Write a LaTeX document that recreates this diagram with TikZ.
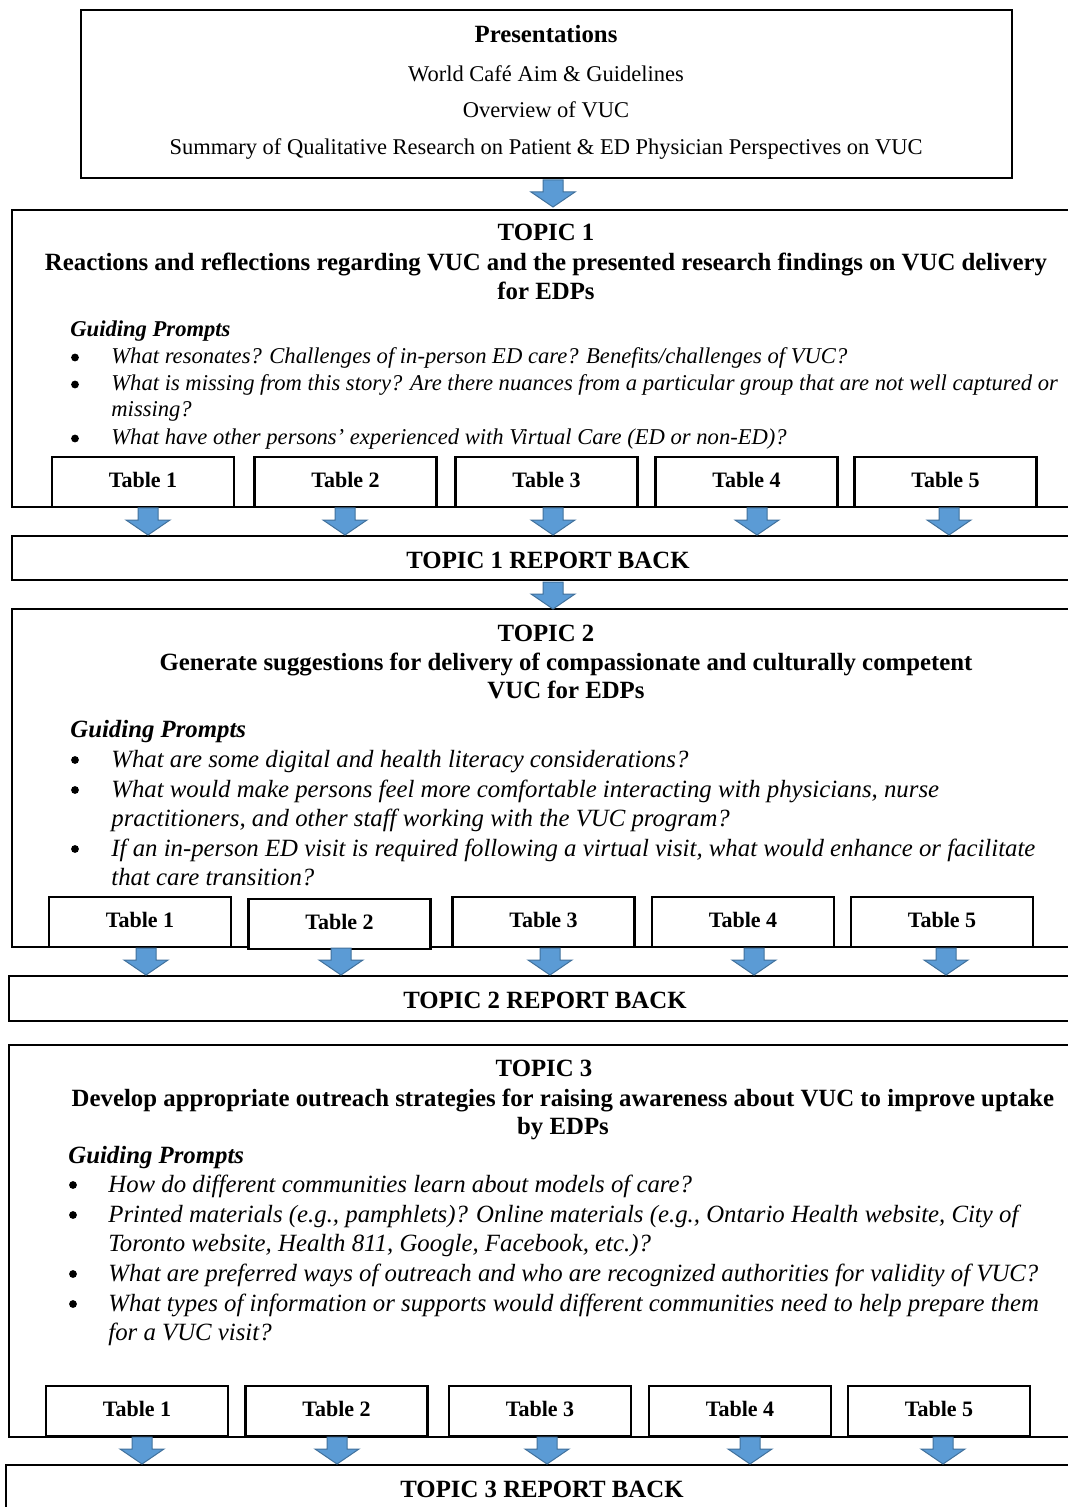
\documentclass[tikz,border=0pt]{standalone}
\usepackage{fontspec}
\setmainfont{Liberation Serif}
\definecolor{arrowfill}{HTML}{5B9BD5}
\definecolor{arrowline}{HTML}{41719C}
\tikzset{
  bigbox/.style={draw, line width=1.2pt},
  tbl/.style={draw, line width=1.3pt, fill=white, minimum width=91pt, minimum height=25pt, inner sep=0pt, text depth=2pt, font=\fontsize{11}{13}\selectfont\bfseries},
  ttl/.style={anchor=base, inner sep=0pt, font=\fontsize{12.4}{14}\selectfont\bfseries},
  reg/.style={anchor=base, inner sep=0pt, font=\fontsize{11.25}{13}\selectfont},
  gpA/.style={anchor=base west, inner sep=0pt, font=\fontsize{11.3}{13}\selectfont\bfseries\itshape},
  gpB/.style={anchor=base west, inner sep=0pt, font=\fontsize{12.4}{14}\selectfont\bfseries\itshape},
  itA/.style={anchor=base west, inner sep=0pt, font=\fontsize{11.3}{13}\selectfont\itshape},
  itB/.style={anchor=base west, inner sep=0pt, font=\fontsize{12.4}{14}\selectfont\itshape},
  bul/.style={circle, fill=black, inner sep=0pt, minimum size=3.9pt},
  barrow/.pic={\filldraw[fill=arrowfill, draw=arrowline, line width=0.5pt]
    (-10,0) -- (10,0) -- (10,12) -- (22,12) -- (0,27) -- (-22,12) -- (-10,12) -- cycle;}
}

\begin{document}

\begin{tikzpicture}[x=0.5pt,y=-0.5pt]
\useasboundingbox (0,0) rectangle (1068,1507);
\clip (0,0) rectangle (1068,1507);
\fill[white] (0,0) rectangle (1068,1507);

% ---------- Presentations ----------
\draw[bigbox] (81,10) rectangle (1012,178);
\node[ttl] (pres) at (546,43) {Presentations};
\node[reg] (pres1) at (546,82) {World Café Aim \& Guidelines};
\node[reg] (pres2) at (546,118) {Overview of VUC};
\node[reg] (pres3) at (546,155) {Summary of Qualitative Research on Patient \& ED Physician Perspectives on VUC};

% ---------- Topic 1 ----------
\draw[bigbox] (1090,210) -- (12,210) -- (12,507) -- (1090,507);
\node[ttl] (t1a) at (546,241) {TOPIC 1};
\node[ttl] (t1b) at (546,271) {Reactions and reflections regarding VUC and the presented research findings on VUC delivery};
\node[ttl] (t1c) at (546,300) {for EDPs};
\node[gpA] (t1g) at (70,337) {Guiding Prompts};
\foreach \yy in {364,391,445} \node[bul] at (75,{\yy-6.5}) {};
\node[itA] (t1p1) at (111,364) {What resonates? Challenges of in-person ED care? Benefits/challenges of VUC?};
\node[itA] (t1p2) at (111,391) {What is missing from this story? Are there nuances from a particular group that are not well captured or};
\node[itA] (t1p2b) at (111,417) {missing?};
\node[itA] (t1p3) at (111,445) {What have other persons’ experienced with Virtual Care (ED or non-ED)?};

\node[tbl] (a1) at (143,482) {Table 1};
\node[tbl] (a2) at (345.5,482) {Table 2};
\node[tbl] (a3) at (546.5,482) {Table 3};
\node[tbl] (a4) at (746.5,482) {Table 4};
\node[tbl] (a5) at (945.5,482) {Table 5};

% ---------- Topic 1 report back ----------
\draw[bigbox] (1090,536) -- (12,536) -- (12,580) -- (1090,580);
\node[ttl] (rb1) at (548,568) {TOPIC 1 REPORT BACK};

% ---------- Topic 2 ----------
\draw[bigbox] (1090,609) -- (12,609) -- (12,947) -- (1090,947);
\node[ttl] (t2a) at (546,641) {TOPIC 2};
\node[ttl] (t2b) at (566,670) {Generate suggestions for delivery of compassionate and culturally competent};
\node[ttl] (t2c) at (566,698) {VUC for EDPs};
\node[gpB] (t2g) at (70,737) {Guiding Prompts};
\foreach \yy in {767,797,856} \node[bul] at (75,{\yy-7}) {};
\node[itB] (t2p1) at (111,767) {What are some digital and health literacy considerations?};
\node[itB] (t2p2) at (111,797) {What would make persons feel more comfortable interacting with physicians, nurse};
\node[itB] (t2p2b) at (111,826) {practitioners, and other staff working with the VUC program?};
\node[itB] (t2p3) at (111,856) {If an in-person ED visit is required following a virtual visit, what would enhance or facilitate};
\node[itB] (t2p3b) at (111,885) {that care transition?};

\node[tbl] (b1) at (140,922) {Table 1};
\node[tbl] (b2) at (339.5,924) {Table 2};
\node[tbl] (b3) at (543.5,922) {Table 3};
\node[tbl] (b4) at (743,922) {Table 4};
\node[tbl] (b5) at (942,922) {Table 5};

% ---------- Topic 2 report back ----------
\draw[bigbox] (1090,976) -- (9,976) -- (9,1021) -- (1090,1021);
\node[ttl] (rb2) at (545,1008) {TOPIC 2 REPORT BACK};

% ---------- Topic 3 ----------
\draw[bigbox] (1090,1045) -- (9,1045) -- (9,1437) -- (1090,1437);
\node[ttl] (t3a) at (544,1076) {TOPIC 3};
\node[ttl] (t3b) at (563,1106) {Develop appropriate outreach strategies for raising awareness about VUC to improve uptake};
\node[ttl] (t3c) at (563,1134) {by EDPs};
\node[gpB] (t3g) at (68,1163) {Guiding Prompts};
\foreach \yy in {1192,1222,1281,1311} \node[bul] at (73,{\yy-7}) {};
\node[itB] (t3p1) at (108,1192) {How do different communities learn about models of care?};
\node[itB] (t3p2) at (108,1222) {Printed materials (e.g., pamphlets)? Online materials (e.g., Ontario Health website, City of};
\node[itB] (t3p2b) at (108,1251) {Toronto website, Health 811, Google, Facebook, etc.)?};
\node[itB] (t3p3) at (108,1281) {What are preferred ways of outreach and who are recognized authorities for validity of VUC?};
\node[itB] (t3p4) at (108,1311) {What types of information or supports would different communities need to help prepare them};
\node[itB] (t3p4b) at (108,1340) {for a VUC visit?};

\node[tbl] (c1) at (137,1411) {Table 1};
\node[tbl] (c2) at (336.5,1411) {Table 2};
\node[tbl] (c3) at (540,1411) {Table 3};
\node[tbl] (c4) at (740,1411) {Table 4};
\node[tbl] (c5) at (939,1411) {Table 5};

% ---------- Topic 3 report back ----------
\draw[bigbox] (1090,1465) -- (6,1465) -- (6,1530);
\node[ttl] (rb3) at (542,1497) {TOPIC 3 REPORT BACK};

% ---------- Block arrows ----------
\foreach \xx/\yy in {553/180, 148/508, 345/508, 553/508, 757/508, 949/508,
  553/582, 146/948, 341/948, 550/948, 754/948, 946/948,
  142/1437, 337/1437, 547/1437, 750/1437, 943/1437}
  \pic at (\xx,\yy) {barrow};
\end{tikzpicture}

\end{document}
